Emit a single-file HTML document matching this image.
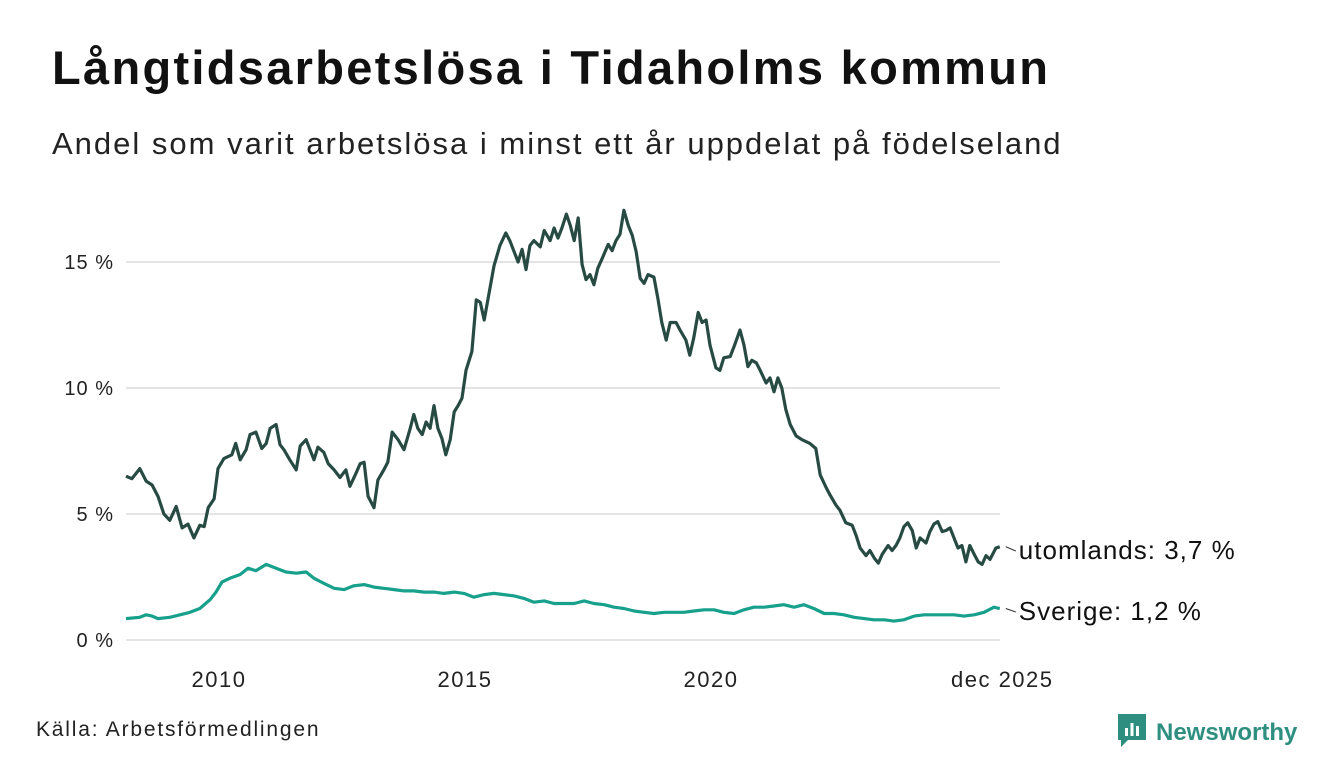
<!DOCTYPE html>
<html><head><meta charset="utf-8">
<style>
body{margin:0;background:#fff;width:1340px;height:780px;overflow:hidden;font-family:"Liberation Sans",sans-serif;color:#111;}
#title{position:absolute;left:52px;top:40px;font-size:47px;font-weight:bold;letter-spacing:2.3px;}
#sub{position:absolute;left:52px;top:126px;font-size:31px;letter-spacing:2px;color:#222;}
#src{position:absolute;left:36px;top:718px;font-size:21px;letter-spacing:1.8px;color:#222;}
#logo{position:absolute;left:1118px;top:714px;font-size:24px;font-weight:bold;color:#2e8f80;}
svg{position:absolute;left:0;top:0;}
</style></head><body>
<div id="title">Långtidsarbetslösa i Tidaholms kommun</div>
<div id="sub">Andel som varit arbetslösa i minst ett år uppdelat på födelseland</div>
<div id="src">Källa: Arbetsförmedlingen</div>
<div id="logo"><svg width="30" height="34" viewBox="0 0 30 34" style="position:relative;vertical-align:-8px;margin-right:8px"><path d="M0 0H28V26H10L3 33V26H0Z" fill="#2e8f80"/><rect x="7" y="14" width="3" height="8" fill="#fff"/><rect x="12.5" y="9" width="3" height="13" fill="#fff"/><rect x="18" y="12" width="3" height="10" fill="#fff"/></svg>Newsworthy</div>
<svg id="chart" width="1340" height="780"></svg>
<script>
const yTicks=[0,5,10,15];
const yTickLabels=["0 %","5 %","10 %","15 %"];
const xTicks=[2010,2015,2020,2025.92];
const xTickLabels=["2010","2015","2020","dec 2025"];
// years since 2008
const utT=[0.11,0.23,0.39,0.52,0.64,0.76,0.88,1.00,1.13,1.25,1.37,1.49,1.61,1.70,1.78,1.90,1.98,2.10,2.26,2.34,2.43,2.55,2.63,2.75,2.87,2.96,3.04,3.16,3.24,3.32,3.44,3.57,3.65,3.77,3.85,3.93,4.01,4.13,4.22,4.34,4.46,4.58,4.66,4.78,4.87,4.95,5.03,5.15,5.23,5.35,5.43,5.52,5.64,5.76,5.88,5.96,6.04,6.13,6.21,6.29,6.37,6.45,6.53,6.61,6.70,6.78,6.86,6.94,7.02,7.14,7.23,7.31,7.39,7.47,7.59,7.71,7.83,7.91,8.00,8.08,8.16,8.24,8.32,8.40,8.53,8.61,8.73,8.81,8.89,8.97,9.06,9.14,9.22,9.30,9.38,9.46,9.54,9.62,9.70,9.79,9.91,9.99,10.07,10.15,10.23,10.32,10.40,10.48,10.56,10.64,10.72,10.84,10.92,11.00,11.09,11.17,11.29,11.37,11.49,11.57,11.65,11.74,11.82,11.90,11.98,12.10,12.18,12.26,12.39,12.47,12.59,12.67,12.75,12.83,12.92,13.00,13.12,13.20,13.28,13.36,13.44,13.52,13.61,13.73,13.85,14.01,14.13,14.22,14.34,14.42,14.54,14.62,14.74,14.87,14.95,15.03,15.15,15.23,15.32,15.40,15.48,15.60,15.68,15.76,15.84,15.92,16.00,16.09,16.17,16.25,16.37,16.45,16.53,16.61,16.70,16.78,16.86,16.94,17.02,17.10,17.18,17.26,17.35,17.43,17.51,17.59,17.67,17.79,17.87];
const utV=[6.5,6.4,6.8,6.3,6.15,5.7,5.0,4.75,5.3,4.45,4.6,4.05,4.55,4.5,5.25,5.6,6.8,7.2,7.35,7.8,7.15,7.55,8.15,8.25,7.6,7.8,8.4,8.55,7.75,7.55,7.15,6.75,7.7,7.95,7.55,7.15,7.65,7.45,7.0,6.75,6.45,6.75,6.1,6.6,7.0,7.05,5.7,5.25,6.35,6.75,7.05,8.25,7.95,7.55,8.35,8.95,8.4,8.15,8.65,8.4,9.3,8.4,8.0,7.35,7.95,9.05,9.3,9.6,10.7,11.45,13.5,13.4,12.7,13.55,14.85,15.65,16.15,15.85,15.4,15.0,15.5,14.7,15.65,15.85,15.6,16.25,15.85,16.35,15.95,16.35,16.9,16.45,15.85,16.75,14.9,14.3,14.5,14.1,14.75,15.15,15.7,15.45,15.85,16.1,17.05,16.45,16.05,15.4,14.35,14.15,14.5,14.4,13.55,12.6,11.9,12.6,12.6,12.3,11.9,11.3,12.0,13.0,12.6,12.7,11.7,10.8,10.7,11.2,11.25,11.65,12.3,11.7,10.85,11.1,11.0,10.7,10.2,10.4,9.85,10.4,10.0,9.15,8.55,8.1,7.95,7.8,7.6,6.55,6.05,5.75,5.35,5.15,4.65,4.55,4.15,3.65,3.35,3.55,3.25,3.05,3.4,3.75,3.55,3.75,4.05,4.5,4.65,4.35,3.65,4.05,3.85,4.3,4.6,4.7,4.3,4.35,4.45,4.05,3.65,3.75,3.1,3.75,3.4,3.1,3.0,3.35,3.2,3.65,3.7];
const svT=[0.11,0.39,0.52,0.64,0.76,1.00,1.21,1.41,1.61,1.82,1.94,2.06,2.22,2.43,2.59,2.75,2.96,3.16,3.36,3.57,3.77,3.93,4.13,4.34,4.54,4.74,4.95,5.15,5.35,5.56,5.76,5.96,6.17,6.37,6.57,6.78,6.98,7.18,7.39,7.59,7.79,8.00,8.20,8.40,8.61,8.81,9.01,9.22,9.42,9.62,9.83,10.03,10.23,10.44,10.64,10.84,11.05,11.25,11.45,11.65,11.86,12.06,12.26,12.47,12.67,12.87,13.08,13.28,13.48,13.69,13.89,14.09,14.30,14.50,14.70,14.91,15.11,15.31,15.52,15.72,15.92,16.13,16.33,16.53,16.74,16.94,17.14,17.35,17.55,17.75,17.87];
const svV=[0.85,0.9,1.0,0.95,0.85,0.9,1.0,1.1,1.25,1.6,1.9,2.3,2.45,2.6,2.85,2.75,3.0,2.85,2.7,2.65,2.7,2.45,2.25,2.05,2.0,2.15,2.2,2.1,2.05,2.0,1.95,1.95,1.9,1.9,1.85,1.9,1.85,1.7,1.8,1.85,1.8,1.75,1.65,1.5,1.55,1.45,1.45,1.45,1.55,1.45,1.4,1.3,1.25,1.15,1.1,1.05,1.1,1.1,1.1,1.15,1.2,1.2,1.1,1.05,1.2,1.3,1.3,1.35,1.4,1.3,1.4,1.25,1.05,1.05,1.0,0.9,0.85,0.8,0.8,0.75,0.8,0.95,1.0,1.0,1.0,1.0,0.95,1.0,1.1,1.3,1.25];
const seriesLabels=["utomlands: 3,7 %","Sverige: 1,2 %"];

const NS="http://www.w3.org/2000/svg";
const svg=document.getElementById('chart');
const X0=126,X1=1000;
const xs=y=>120.6+(y-2008)*49.2;
const xt=t=>xs(2008+t);
const ys=v=>640-v*25.2;
function mk(tag,attrs,parent){const e=document.createElementNS(NS,tag);for(const k in attrs)e.setAttribute(k,attrs[k]);(parent||svg).appendChild(e);return e;}
yTicks.forEach((v,i)=>{
  const g=mk('line',{x1:X0,x2:X1,y1:ys(v),y2:ys(v),stroke:'#dcdcdc','stroke-width':1.5});
  
  
  const t=mk('text',{x:114,y:ys(v)+7,'text-anchor':'end','font-size':20,'letter-spacing':1,fill:'#222'});
  t.textContent=yTickLabels[i];
  
  
});
xTicks.forEach((v,i)=>{
  const t=mk('text',{x:xs(v),y:687,'text-anchor':'middle','font-size':22,'letter-spacing':1.5,fill:'#222'});
  t.textContent=xTickLabels[i];
  
  
});
function line(T,V,color,name){
  const d=T.map((t,i)=>(i?'L':'M')+xt(t).toFixed(1)+','+ys(V[i]).toFixed(1)).join('');
  const p=mk('path',{d:d,fill:'none',stroke:color,'stroke-width':3.2,'stroke-linejoin':'round'});
  
  
}
line(svT,svV,'#17a08b','line-sverige');
line(utT,utV,'#274b43','line-utomlands');
function endLabel(T,V,idx,ly){
  const ex=xt(T[T.length-1]),ey=ys(V[V.length-1]);
  const l=mk('line',{x1:ex+6,y1:ey,x2:ex+16,y2:ly-8,stroke:'#333','stroke-width':1});
  
  
  const t=mk('text',{x:ex+19,y:ly,'font-size':26,'letter-spacing':1,fill:'#111'});
  t.textContent=seriesLabels[idx];
  
  
}
endLabel(utT,utV,0,559);
endLabel(svT,svV,1,620);
</script>
</body></html>
